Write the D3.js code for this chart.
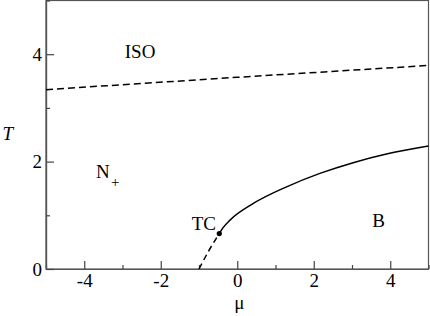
<!DOCTYPE html>
<html>
<head>
<meta charset="utf-8">
<script src="https://cdn.jsdelivr.net/npm/d3@7"></script>
<style>
  body { margin: 0; background: #fff; }
  svg { display: block; }
  text { font-family: "Liberation Serif", "Times New Roman", Times, serif; }
</style>
</head>
<body>
<svg width="430" height="316"></svg>
<script>
// ISO boundary (dashed)
const isoMu = [-5, 0, 5];
const isoT = [3.34, 3.57, 3.79];

// metastable branch below TC (dashed)
const tcDashMu = [-1.0, -0.76, -0.47];
const tcDashT = [0, 0.32, 0.66];

// N+ / B boundary (solid)
const bMu = [-0.47, -0.37, -0.19, 0.42, 1.29, 2.16, 3.03, 3.90, 5];
const bT = [0.66, 0.77, 0.91, 1.22, 1.53, 1.78, 1.98, 2.14, 2.29];

const xMajor = [-4, -2, 0, 2, 4];
const xMinor = [-5, -3, -1, 1, 3, 5];
const yMajor = [0, 2, 4];
const yMinor = [1, 3, 5];

const tc = { mu: -0.47, T: 0.66 };

const serif = "'Liberation Serif', 'Times New Roman', Times, serif";
const svg = d3.select("svg");

const area = { left: 46, right: 428.5, top: 0.5, bottom: 269 };

const scX = d3.scaleLinear().domain([-5, 5]).range([area.left, area.right]);
const scY = d3.scaleLinear().domain([0, 5]).range([area.bottom, area.top]);

// рамка
svg.append("rect")
  .attr("x", area.left).attr("y", area.top)
  .attr("width", area.right - area.left).attr("height", area.bottom - area.top)
  .attr("fill", "none").attr("stroke", "#555").attr("stroke-width", 1.2);

// оси: тики внутрь
const axX = svg.append("g")
  .attr("transform", `translate(0, ${area.bottom})`)
  .call(d3.axisBottom(scX).tickValues(xMajor).tickSizeInner(-8).tickSizeOuter(0)
    .tickPadding(5).tickFormat(d => String(d)));
const axXm = svg.append("g")
  .attr("transform", `translate(0, ${area.bottom})`)
  .call(d3.axisBottom(scX).tickValues(xMinor).tickSizeInner(-4).tickSizeOuter(0).tickFormat(""));

const axY = svg.append("g")
  .attr("transform", `translate(${area.left}, 0)`)
  .call(d3.axisLeft(scY).tickValues(yMajor).tickSizeInner(-8).tickSizeOuter(0)
    .tickPadding(4).tickFormat(d => String(d)));
const axYm = svg.append("g")
  .attr("transform", `translate(${area.left}, 0)`)
  .call(d3.axisLeft(scY).tickValues(yMinor).tickSizeInner(-4).tickSizeOuter(0).tickFormat(""));

[axX, axXm, axY, axYm].forEach(g => {
  g.attr("font-family", serif);
  g.select(".domain").attr("stroke", "#555").attr("stroke-width", 1.2);
  g.selectAll(".tick line").attr("stroke", "#444").attr("stroke-width", 1.2);
  g.selectAll(".tick text").attr("fill", "#000").style("font-size", "19px")
    .style("font-family", serif);
});

// линии
const line = d3.line().x(d => scX(d[0])).y(d => scY(d[1]));

svg.append("path")
  .datum(d3.zip(isoMu, isoT))
  .attr("d", line)
  .attr("fill", "none").attr("stroke", "#000").attr("stroke-width", 1.5)
  .attr("stroke-dasharray", "7,4");

svg.append("path")
  .datum(d3.zip(tcDashMu, tcDashT))
  .attr("d", line.curve(d3.curveMonotoneX))
  .attr("fill", "none").attr("stroke", "#000").attr("stroke-width", 1.5)
  .attr("stroke-dasharray", "6,4");

svg.append("path")
  .datum(d3.zip(bMu, bT))
  .attr("d", line.curve(d3.curveMonotoneX))
  .attr("fill", "none").attr("stroke", "#000").attr("stroke-width", 1.5);

svg.append("circle")
  .attr("cx", scX(tc.mu)).attr("cy", scY(tc.T)).attr("r", 2.6).attr("fill", "#000");

// подписи областей
const labels = [
  { text: "ISO", mu: -2.94, T: 3.92 },
  { text: "N", mu: -3.69, T: 1.70 },
  { text: "TC", mu: -1.19, T: 0.72 },
  { text: "B", mu: 3.53, T: 0.78 }
];
labels.forEach(l => {
  svg.append("text")
    .attr("x", scX(l.mu)).attr("y", scY(l.T))
    .style("font-family", serif)
    .style("font-size", "19px").text(l.text);
});
// индекс "+" у N
svg.append("text")
  .attr("x", scX(-3.69) + 15).attr("y", scY(1.70) + 9)
  .style("font-family", serif)
  .style("font-size", "15px").text("+");

// подписи осей
svg.append("text")
  .attr("x", 2.5).attr("y", 140)
  .style("font-family", serif)
  .style("font-size", "19px").style("font-style", "italic").text("T");
svg.append("text")
  .attr("x", scX(0) + 2).attr("y", 309)
  .attr("text-anchor", "middle")
  .style("font-family", serif)
  .style("font-size", "19px").text("μ");
</script>
</body>
</html>
